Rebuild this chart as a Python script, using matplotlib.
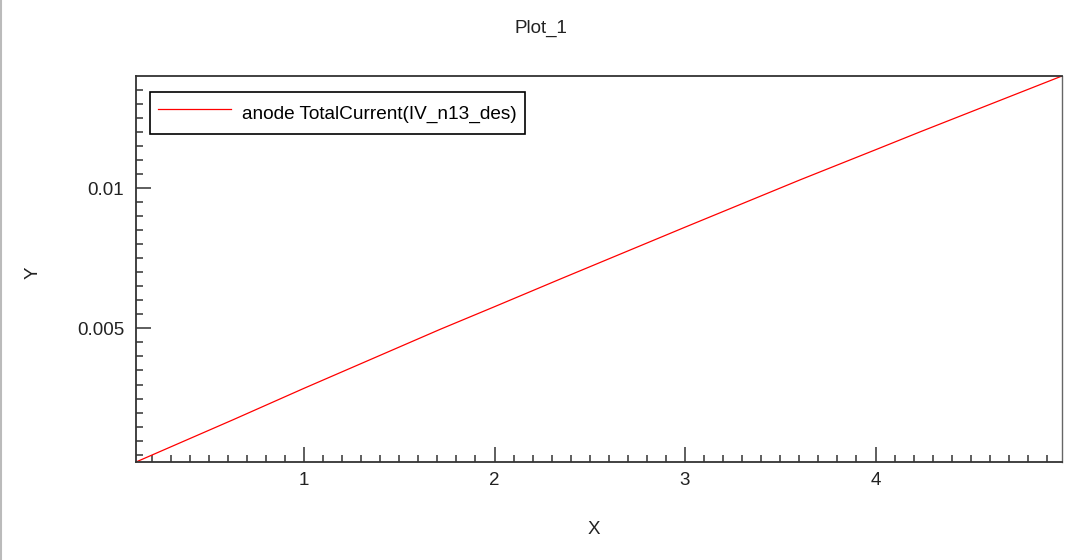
import numpy as np
import matplotlib
matplotlib.use('Agg')
import matplotlib.pyplot as plt
from matplotlib.lines import Line2D
from matplotlib.ticker import MultipleLocator, FormatStrFormatter

plt.rcParams['font.family'] = 'Liberation Sans'
plt.rcParams['font.size'] = 13.5

# anode current
voltage = [0.118, 0.627, 1.0, 1.714, 2.0, 2.344, 3.0, 3.604, 4.0, 4.234, 4.979]
current = [0.00024, 0.001743, 0.002865, 0.004964, 0.005772, 0.006754,
           0.008604, 0.010290, 0.011362, 0.012000, 0.01399]
series_label = 'anode TotalCurrent(IV_n13_des)'

fig = plt.figure(figsize=(10.84, 5.6), dpi=100)
ax = fig.add_axes([136 / 1084, 1 - 462 / 560, 926 / 1084, 386 / 560])

ax.plot(voltage, current, color='#ff0000', linewidth=0.9, label=series_label)
ax.set_xlim(min(voltage), max(voltage))
ax.set_ylim(min(current), max(current))

ax.xaxis.set_major_locator(MultipleLocator(1))
ax.xaxis.set_minor_locator(MultipleLocator(0.1))
ax.yaxis.set_major_locator(MultipleLocator(0.005))
ax.yaxis.set_minor_locator(MultipleLocator(0.0005))
ax.yaxis.set_major_formatter(FormatStrFormatter('%g'))
ax.tick_params(which='both', direction='in', top=False, right=False,
               color='#333333', width=1.1, labelcolor='#222222')
ax.tick_params(which='major', length=10.8, pad=7)
ax.tick_params(axis='y', which='major', pad=8.5)
ax.tick_params(which='minor', length=5)
for s in ax.spines.values():
    s.set_color('#333333')
    s.set_linewidth(1.3)
ax.spines['right'].set_color('#666666')
ax.spines['right'].set_linewidth(1.0)

leg = ax.legend(loc='upper left', bbox_to_anchor=(14 / 926, 1 - 16 / 386),
                borderaxespad=0, fancybox=False, framealpha=1, fontsize=13.7,
                handlelength=3.85, handleheight=1.8, handletextpad=0.6, borderpad=0.4)
leg.get_frame().set_edgecolor('black')
leg.get_frame().set_linewidth(1.2)

fig.text(541 / 1084, 1 - 28 / 560, 'Plot_1', ha='center', va='center', color='#222222')
fig.text(594 / 1084, 1 - 530 / 560, 'X', ha='center', va='center', color='#222222')
fig.text(33 / 1084, 1 - 273 / 560, 'Y', ha='center', va='center', rotation=90, color='#222222')

# thin grey border on the left edge of the screenshot
fig.add_artist(Line2D([0.001, 0.001], [0, 1], transform=fig.transFigure, color='#bbbbbb', linewidth=1.5))

fig.savefig('out.png', dpi=100)
